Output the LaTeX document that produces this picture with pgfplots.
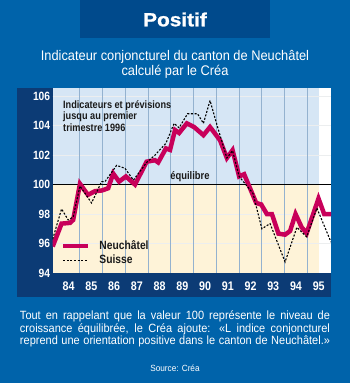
\documentclass[border=0pt]{standalone}
\usepackage{pgfplots}
\pgfplotsset{compat=1.18}
\usepackage{fontspec}
\setmainfont{Liberation Sans}[FakeStretch=0.92]
\newfontfamily\condfont{Liberation Sans}[FakeStretch=0.86]
\newfontfamily\heavyfont{Liberation Sans}[FakeStretch=1.1,FakeBold=1.2]
\definecolor{bgblue}{HTML}{0063AA}
\definecolor{titleblue}{HTML}{004A8C}
\definecolor{navy}{HTML}{0C3B75}
\definecolor{plotblue}{HTML}{D6E6F5}
\definecolor{plotyellow}{HTML}{FEF3D8}
\definecolor{gridv}{HTML}{94B2CF}
\definecolor{hgrid}{HTML}{ECEEEF}
\definecolor{neuch}{HTML}{C8005A}
\definecolor{txt}{HTML}{1A1A1A}
\begin{document}
\begin{tikzpicture}[x=1bp,y=1bp]
\fill[bgblue] (0,0) rectangle (350,383);
\fill[titleblue] (80,345) rectangle (270,383);
\node[white,font=\heavyfont\bfseries\fontsize{19}{19}\selectfont] at (175,363.5) {Positif};
\node[white,font=\fontsize{14}{14}\selectfont] at (175,326.5) {Indicateur conjoncturel du canton de Neuch\^atel};
\node[white,font=\fontsize{14}{14}\selectfont] at (175,311.5) {calcul\'e par le Cr\'ea};
\fill[navy] (17,86) rectangle (331,295);
\begin{axis}[
  at={(52.7bp,110bp)}, anchor=south west, scale only axis,
  width=278.3bp, height=185bp,
  xmin=1983.8, xmax=1996.04, ymin=94, ymax=106.55,
  axis line style={draw=none},
  tick style={draw=none},
  xtick={1984.5,1985.5,...,1995.5},
  xticklabels={84,85,86,87,88,89,90,91,92,93,94,95},
  ytick={94,96,...,106},
  /pgf/number format/assume math mode=true,
  xticklabel style={text=white, font=\condfont\bfseries\fontsize{12.5}{12.5}\selectfont, anchor=center, yshift=-13bp},
  yticklabel style={text=white, font=\condfont\bfseries\fontsize{12}{12}\selectfont, anchor=east, xshift=1bp},
  legend style={at={(rel axis cs:0.029,0.03)}, anchor=south west, draw=none, fill=none, text=txt,
     font=\condfont\bfseries\fontsize{12}{12}\selectfont, row sep=0pt, inner sep=0pt, cells={anchor=west}},
  legend image code/.code={\draw[#1] (0bp,0bp) -- (25bp,0bp); \path (32bp,0bp);},
]
\fill[plotblue] (axis cs:1983.8,100) rectangle (axis cs:1995.5,106.55);
\fill[plotyellow] (axis cs:1983.8,94) rectangle (axis cs:1995.5,100);
\fill[white] (axis cs:1995.5,94) rectangle (axis cs:1996.04,106.55);
\pgfplotsinvokeforeach{96,98,102,104,106}{\draw[hgrid, line width=0.8bp] (axis cs:1983.8,#1) -- (axis cs:1996.04,#1);}
\pgfplotsinvokeforeach{1985,...,1995}{\draw[gridv, line width=1bp] (axis cs:#1,94) -- (axis cs:#1,106.55);}
\draw[black, line width=0.9bp] (axis cs:1983.8,100) -- (axis cs:1996.04,100);
\addplot[neuch, line width=4.5bp, line join=miter, miter limit=3] coordinates {
(1983.80,95.8) (1984.19,97.35) (1984.56,97.4) (1984.70,97.6) (1985.00,100.05)
(1985.35,99.3) (1985.66,99.55) (1985.97,99.6) (1986.24,99.75) (1986.46,100.75)
(1986.72,100.2) (1987.02,100.55) (1987.42,100.0) (1987.93,101.55) (1988.30,101.65)
(1988.44,101.5) (1988.78,102.45) (1988.96,102.35) (1989.18,103.7) (1989.36,103.5)
(1989.70,104.15) (1990.02,103.9) (1990.43,103.35) (1990.72,103.9) (1991.16,103.0)
(1991.46,101.8) (1991.71,102.33) (1992.00,100.55) (1992.22,100.7) (1992.75,98.75)
(1992.97,98.65) (1993.22,98.0) (1993.44,98.0) (1993.73,96.67) (1994.02,96.6)
(1994.24,96.85) (1994.48,98.0) (1994.75,97.1) (1994.97,96.7) (1995.49,99.05)
(1995.74,98.0) (1996.04,98.0)
};
\addlegendentry{Neuch\^atel}
\addplot[black, line width=1.1bp, dash pattern=on 2bp off 1.6bp] coordinates {
(1983.80,96.3) (1984.19,98.35) (1984.48,97.6) (1984.70,97.8) (1985.00,99.9)
(1985.51,98.75) (1985.95,100.2) (1986.10,100.2) (1986.61,101.3) (1986.98,101.1)
(1987.35,100.3) (1987.93,101.5) (1988.30,102.0) (1988.78,102.8) (1989.14,104.15)
(1989.36,103.85) (1989.73,104.8) (1990.17,104.8) (1990.43,104.15) (1990.72,105.7)
(1991.09,103.7) (1991.46,101.8) (1991.71,102.3) (1992.00,100.55) (1992.61,99.4)
(1993.00,97.0) (1993.36,97.35) (1994.02,94.75) (1994.54,97.1) (1994.97,96.45)
(1995.42,98.4) (1996.04,96.1)
};
\addlegendentry{Suisse}
\end{axis}
\node[anchor=north west, align=left, inner sep=0pt, text=txt, font=\condfont\bfseries\fontsize{10.7}{11.7}\selectfont] at (63,383-100)
  {Indicateurs et pr\'evisions\\jusqu au premier\\trimestre 1996};
\node[text=txt, font=\condfont\bfseries\fontsize{11}{11}\selectfont] at (190,206) {\'equilibre};
\node[anchor=north, inner sep=0pt, text=white] at (175,383-310.5)
  {\parbox[t]{310bp}{\fontsize{12}{12.7}\selectfont\parfillskip=0pt Tout en rappelant que la valeur 100 repr\'esente le niveau de\linebreak croissance \'equilibr\'ee, le Cr\'ea ajoute: \guillemotleft L indice conjoncturel\linebreak reprend une orientation positive dans le canton de Neuch\^atel.\guillemotright}};
\node[text=white, font=\fontsize{9}{9}\selectfont] at (175,15) {Source: Cr\'ea};
\end{tikzpicture}
\end{document}
